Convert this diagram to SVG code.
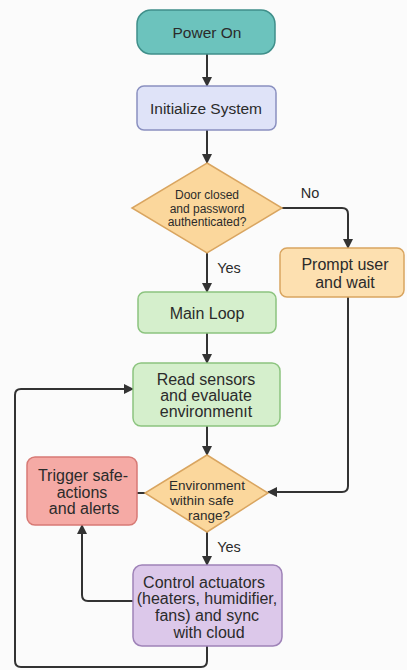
<svg xmlns="http://www.w3.org/2000/svg" width="407" height="670" viewBox="0 0 407 670">
<defs>
<marker id="ah" viewBox="0 0 10 10" refX="9" refY="5" markerWidth="5" markerHeight="5" orient="auto-start-reverse" markerUnits="strokeWidth">
<path d="M0,0 L10,5 L0,10 z" fill="#333"/>
</marker>
<style>
text{font-family:"Liberation Sans",Arial,sans-serif;fill:#2b2b2b;text-anchor:middle;dominant-baseline:central}
.t16{font-size:16px}
.t15{font-size:15.5px}
.t14{font-size:14.5px}
.t13{font-size:13.5px}
.t12{font-size:12px}
.c{fill:none;stroke:#333;stroke-width:2;stroke-linejoin:round}
.a{marker-end:url(#ah)}
</style>
</defs>
<rect width="407" height="670" fill="#fbfbfb"/>
<g id="connectors">
<path class="c a" d="M207,54 V86"/>
<path class="c a" d="M207,130 V163"/>
<path class="c a" d="M282,208 H342 Q348,208 348,214 V248"/>
<path class="c a" d="M207,253 V292"/>
<path class="c a" d="M207,333 V363"/>
<path class="c a" d="M207,426 V455"/>
<path class="c a" d="M348,297 V486 Q348,492 342,492 H268"/>
<path class="c" d="M145,493 H137"/>
<path class="c a" d="M207,532 V565"/>
<path class="c a" d="M133,601 H88 Q82,601 82,595 V525"/>
<path class="c a" d="M207,646 V661 Q207,667 201,667 H21 Q15,667 15,661 V395 Q15,389 21,389 H133"/>
<text class="t14" x="310" y="193">No</text>
<text class="t14" x="229" y="268">Yes</text>
<text class="t14" x="229" y="547">Yes</text>
</g>
<g id="power-on">
<rect x="137" y="10" width="138" height="44" rx="14" fill="#6cc3bd" stroke="#3f8f8a" stroke-width="1.5"/>
<text class="t15" x="207" y="32">Power On</text>
</g>
<g id="initialize">
<rect x="137" y="86" width="139" height="44" rx="7" fill="#dfe3f8" stroke="#8a90c0" stroke-width="1.5"/>
<text class="t15" x="206" y="108">Initialize System</text>
</g>
<g id="door-check">
<polygon points="207,163 282,208 207,253 132,208" fill="#fbd79c" stroke="#d9a560" stroke-width="1.5"/>
<text class="t12" x="207" y="195">Door closed</text>
<text class="t12" x="207" y="209">and password</text>
<text class="t12" x="207" y="222">authenticated?</text>
</g>
<g id="prompt">
<rect x="280" y="248" width="124" height="49" rx="7" fill="#fde0b0" stroke="#d9a560" stroke-width="1.5"/>
<text class="t16" x="345" y="264">Prompt user</text>
<text class="t16" x="345" y="282">and wait</text>
</g>
<g id="main-loop">
<rect x="138" y="292" width="138" height="41" rx="7" fill="#d5efcc" stroke="#8cc47f" stroke-width="1.5"/>
<text class="t16" x="207" y="313">Main Loop</text>
</g>
<g id="read-sensors">
<rect x="133" y="363" width="147" height="63" rx="8" fill="#d5efcc" stroke="#8cc47f" stroke-width="1.5"/>
<text class="t16" x="206" y="379">Read sensors</text>
<text class="t16" x="206" y="395">and evaluate</text>
<text class="t16" x="206" y="411">environmenıt</text>
</g>
<g id="env-check">
<polygon points="207,455 268,493 207,532 145,493" fill="#fbd79c" stroke="#d9a560" stroke-width="1.5"/>
<text class="t13" x="207" y="485">Environment</text>
<text class="t13" x="202" y="500">within safe</text>
<text class="t13" x="209" y="515">range?</text>
</g>
<g id="trigger">
<rect x="27" y="457" width="110" height="68" rx="8" fill="#f5aaa5" stroke="#d77a75" stroke-width="1.5"/>
<text class="t16" x="83" y="475">Trigger safe-</text>
<text class="t16" x="82" y="492">actions</text>
<text class="t16" x="84" y="508">and alerts</text>
</g>
<g id="control">
<rect x="133" y="565" width="149" height="81" rx="9" fill="#dcc8ea" stroke="#9f83b8" stroke-width="1.5"/>
<text class="t16" x="204" y="582">Control actuators</text>
<text class="t16" x="207" y="598">(heaters, humidifier,</text>
<text class="t16" x="207" y="615">fans) and sync</text>
<text class="t16" x="209" y="632">with cloud</text>
</g>
</svg>
